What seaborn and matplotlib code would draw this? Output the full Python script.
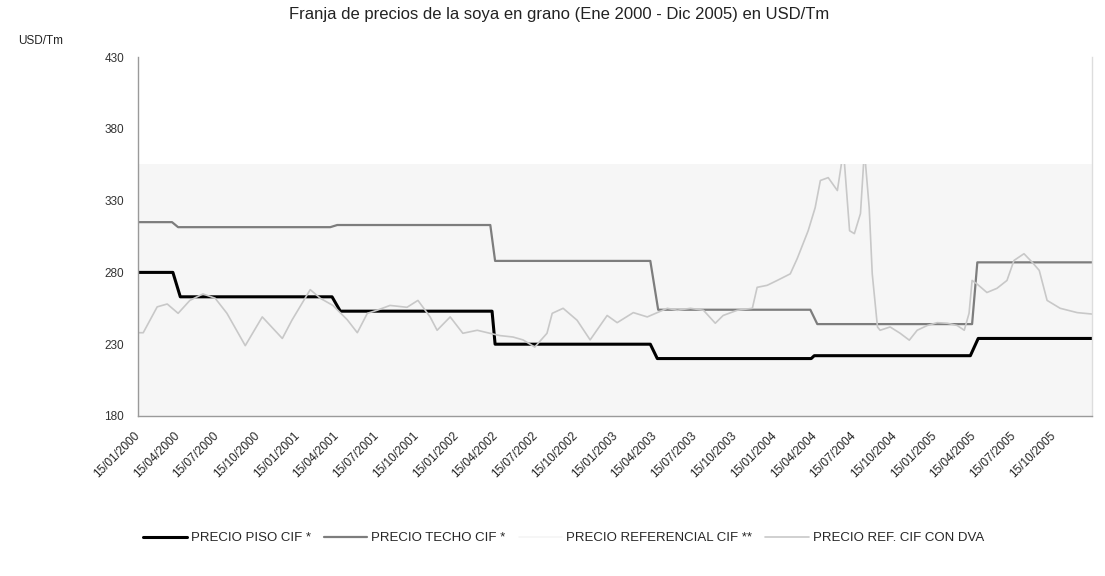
import matplotlib.pyplot as plt
from matplotlib.lines import Line2D
from matplotlib.transforms import ScaledTranslation
import seaborn as sns
import pandas as pd

sns.set_theme(style='white')
plt.rcParams['font.family'] = ['Liberation Sans', 'DejaVu Sans']

# Precio piso CIF (quiebres de la franja, USD/Tm)
piso_fechas = ['2000-01-15', '2000-04-04', '2000-04-21', '2001-04-04', '2001-04-23',
               '2002-04-06', '2002-04-13', '2003-04-04', '2003-04-20', '2004-04-07',
               '2004-04-14', '2005-04-07', '2005-04-25', '2006-01-11']
piso_valores = [280, 280, 263, 263, 253, 253, 230, 230, 220, 220, 222, 222, 234, 234]

# Precio techo CIF
techo_fechas = ['2000-01-15', '2000-04-02', '2000-04-16', '2001-03-31', '2001-04-16',
                '2002-04-02', '2002-04-13', '2003-04-04', '2003-04-22', '2004-04-05',
                '2004-04-21', '2005-04-11', '2005-04-23', '2006-01-11']
techo_valores = [315, 315, 311.5, 311.5, 313, 313, 288, 288, 254, 254, 244, 244, 287, 287]

# Precio ref. CIF con DVA
dva_fechas = ['2000-01-15', '2000-01-27', '2000-02-28', '2000-03-22', '2000-04-16',
              '2000-05-13', '2000-06-12', '2000-07-10', '2000-08-06', '2000-09-17',
              '2000-10-26', '2000-12-11', '2001-01-02', '2001-02-13', '2001-03-08',
              '2001-04-06', '2001-05-09', '2001-06-01', '2001-06-24', '2001-07-16',
              '2001-08-15', '2001-09-23', '2001-10-18', '2001-11-15', '2001-12-01',
              '2001-12-31', '2002-01-29', '2002-03-03', '2002-04-01', '2002-04-24',
              '2002-05-24', '2002-06-16', '2002-07-13', '2002-08-10', '2002-08-22',
              '2002-09-16', '2002-10-18', '2002-11-17', '2002-12-03', '2002-12-26',
              '2003-01-18', '2003-02-24', '2003-03-28', '2003-04-20', '2003-05-13',
              '2003-06-05', '2003-07-05', '2003-08-04', '2003-08-31', '2003-09-18',
              '2003-10-20', '2003-11-24', '2003-12-05', '2003-12-28', '2004-01-20',
              '2004-02-19', '2004-03-06', '2004-03-31', '2004-04-16', '2004-04-28',
              '2004-05-16', '2004-06-06', '2004-06-20', '2004-07-04', '2004-07-15',
              '2004-07-29', '2004-08-07', '2004-08-18', '2004-08-25', '2004-09-06',
              '2004-09-12', '2004-10-05', '2004-10-28', '2004-11-18', '2004-12-06',
              '2004-12-29', '2005-01-21', '2005-02-13', '2005-03-08', '2005-03-24',
              '2005-04-04', '2005-04-11', '2005-04-22', '2005-05-15', '2005-06-07',
              '2005-06-30', '2005-07-16', '2005-08-08', '2005-08-27', '2005-09-12',
              '2005-09-30', '2005-10-30', '2005-12-08', '2006-01-11']
dva_valores = [238, 238, 256, 258, 251.5, 260.5, 265, 262, 251.5, 229,
               249, 234, 246.7, 268, 262, 257, 247, 238, 251.5, 253.6,
               257, 255.7, 260.5, 249, 239.7, 249, 237.6, 239.7, 237.6, 236,
               235, 233, 228, 237.6, 251.5, 255, 246.7, 233, 240, 250,
               245, 252, 249, 252, 255, 253.6, 255, 253.6, 244.6, 250,
               253.6, 255, 269.6, 271, 274.4, 279, 289.7, 309, 325, 344,
               346, 337, 365, 309, 307, 321, 365, 325, 279, 242,
               239.7, 242, 237.6, 232.8, 239.7, 243, 245, 244.6, 243, 239.7,
               251.5, 274.4, 272, 266, 268.9, 274.4, 288.3, 293, 287, 281.4,
               260.5, 255, 252, 251]

tick_fechas = ['15/01/2000', '15/04/2000', '15/07/2000', '15/10/2000',
               '15/01/2001', '15/04/2001', '15/07/2001', '15/10/2001',
               '15/01/2002', '15/04/2002', '15/07/2002', '15/10/2002',
               '15/01/2003', '15/04/2003', '15/07/2003', '15/10/2003',
               '15/01/2004', '15/04/2004', '15/07/2004', '15/10/2004',
               '15/01/2005', '15/04/2005', '15/07/2005', '15/10/2005']
y_ticks = [180, 230, 280, 330, 380, 430]

series_nombres = ['PRECIO PISO CIF *', 'PRECIO TECHO CIF *',
                  'PRECIO REFERENCIAL CIF **', 'PRECIO REF. CIF CON DVA']


def main():
    piso = pd.DataFrame({'fecha': pd.to_datetime(piso_fechas), 'precio': piso_valores})
    techo = pd.DataFrame({'fecha': pd.to_datetime(techo_fechas), 'precio': techo_valores})
    dva = pd.DataFrame({'fecha': pd.to_datetime(dva_fechas), 'precio': dva_valores})

    fig = plt.figure(figsize=(11.05, 5.76), dpi=100)
    ax = fig.add_axes([138 / 1105, 1 - 416 / 576, (1092 - 138) / 1105, (416 - 57) / 576])

    # light plot area; the upper part of the scan is blank
    area = ax.axhspan(180, 355.5, facecolor='#f6f6f6', lw=0, zorder=0)

    sns.lineplot(data=piso, x='fecha', y='precio', color='black', lw=2.2, ax=ax)
    sns.lineplot(data=techo, x='fecha', y='precio', color='#7d7d7d', lw=1.6, ax=ax)
    sns.lineplot(data=dva, x='fecha', y='precio', color='#c8c8c8', lw=1.2, ax=ax)
    ax.lines[-1].set_clip_path(area)

    ax.set_xlim(pd.Timestamp('2000-01-15'), pd.Timestamp('2006-01-11'))
    ax.set_ylim(180, 430)
    ax.set_yticks(y_ticks)
    ax.set_xticks(pd.to_datetime(tick_fechas, format='%d/%m/%Y'))
    ax.set_xticklabels(tick_fechas, rotation=45, ha='right', va='center',
                       rotation_mode='anchor', fontsize=8.5, color='#222222')
    shift = ScaledTranslation(-5 / 100, 0, fig.dpi_scale_trans)
    for lab in ax.get_xticklabels():
        lab.set_transform(lab.get_transform() + shift)
    ax.tick_params(axis='x', length=0, pad=13)
    ax.tick_params(axis='y', length=0, pad=10, labelsize=8.5, labelcolor='#333333')
    ax.set_xlabel('')
    ax.set_ylabel('')

    ax.spines['top'].set_visible(False)
    ax.spines['left'].set_color('#9a9a9a')
    ax.spines['bottom'].set_color('#9a9a9a')
    ax.spines['right'].set_color('#dddddd')
    for s in ['left', 'bottom', 'right']:
        ax.spines[s].set_linewidth(1)

    fig.text(0.506, 1 - 15 / 576,
             'Franja de precios de la soya en grano (Ene 2000 - Dic 2005) en USD/Tm',
             ha='center', va='center', fontsize=12, color='#222222')
    fig.text(18 / 1105, 1 - 41 / 576, 'USD/Tm', ha='left', va='center',
             fontsize=8.5, color='#222222')

    handles = [Line2D([], [], color='black', lw=2.2),
               Line2D([], [], color='#7d7d7d', lw=1.6),
               Line2D([], [], color='#f4f4f4', lw=1.1),
               Line2D([], [], color='#c8c8c8', lw=1.2)]
    fig.legend(handles, series_nombres, loc='center', ncol=4,
               bbox_to_anchor=(0.51, 1 - 538 / 576), frameon=False,
               fontsize=9.5, handlelength=3.3, columnspacing=1.0, handletextpad=0.3)

    plt.savefig('out.png', dpi=100)


if __name__ == '__main__':
    main()
